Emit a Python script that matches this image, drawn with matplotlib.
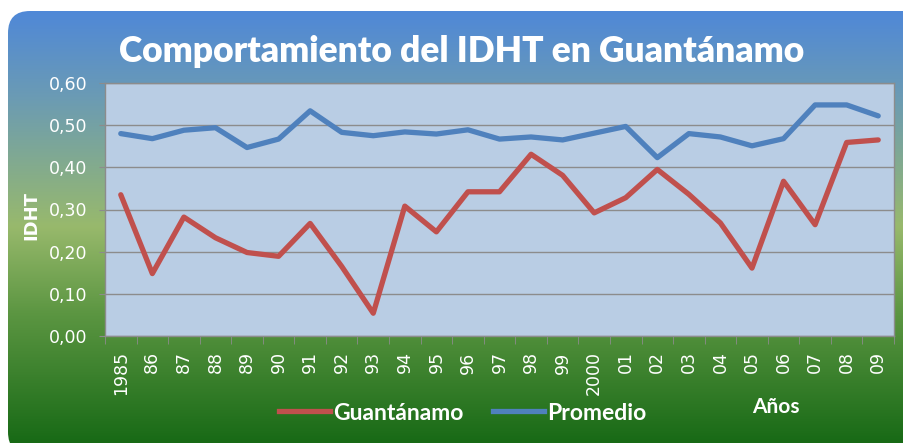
import numpy as np
import matplotlib.pyplot as plt
from matplotlib.patches import FancyBboxPatch
from matplotlib.colors import to_rgb

# --- Data ---
years = ["1985", "86", "87", "88", "89", "90", "91", "92", "93", "94", "95", "96", "97",
         "98", "99", "2000", "01", "02", "03", "04", "05", "06", "07", "08", "09"]
guantanamo = [0.335, 0.148, 0.282, 0.233, 0.198, 0.189, 0.267, 0.165, 0.054, 0.308,
              0.247, 0.342, 0.342, 0.431, 0.381, 0.292, 0.328, 0.395, 0.336, 0.268,
              0.161, 0.367, 0.264, 0.459, 0.465]
promedio = [0.480, 0.468, 0.488, 0.494, 0.447, 0.467, 0.534, 0.483, 0.475, 0.484,
            0.479, 0.489, 0.467, 0.472, 0.465, 0.481, 0.497, 0.423, 0.480, 0.472,
            0.451, 0.468, 0.548, 0.548, 0.522]
yticks = [0.0, 0.1, 0.2, 0.3, 0.4, 0.5, 0.6]

W, H = 904, 443
fig = plt.figure(figsize=(W / 100, H / 100), dpi=100)
fig.patch.set_facecolor("white")

# --- Background: rounded box with vertical gradient ---
bg = fig.add_axes([0, 0, 1, 1], zorder=-1)
bg.set_xlim(0, W)
bg.set_ylim(H, 0)
bg.axis("off")
stops = [0.0, 0.2, 0.5, 0.7, 1.0]
cols = np.array([to_rgb(c) for c in ["#4f88d8", "#6b9bb4", "#98b96c", "#5c9642", "#186a16"]])
t = np.linspace(0, 1, 256)
grad = np.stack([np.interp(t, stops, cols[:, k]) for k in range(3)], axis=1)
grad = np.repeat(grad[:, None, :], 2, axis=1)
im = bg.imshow(grad, extent=[0, W, H, 10], aspect="auto")
box = FancyBboxPatch((8, 11), W + 20, H, boxstyle="round,pad=0,rounding_size=22",
                     transform=bg.transData, facecolor="none", edgecolor="none")
bg.add_patch(box)
im.set_clip_path(box)

# --- Main plot ---
ax = fig.add_axes([105 / W, (H - 336) / H, 789 / W, 253 / H])
ax.set_facecolor("#b9cde4")
x = np.arange(len(years))
ax.plot(x, guantanamo, color="#c0504d", lw=3.8, solid_capstyle="round", solid_joinstyle="round")
ax.plot(x, promedio, color="#4f81bd", lw=3.8, solid_capstyle="round", solid_joinstyle="round")
ax.set_xlim(-0.5, len(years) - 0.5)
ax.set_ylim(0, 0.6)
ax.set_yticks(yticks)
ax.set_yticklabels([f"{v:.2f}".replace(".", ",") for v in yticks])
ax.yaxis.grid(True, color="#8c8c8c", lw=1)
ax.set_axisbelow(True)
ax.set_xticks(x)
ax.set_xticklabels(years, rotation=90)
ax.set_xticks(np.arange(len(years) + 1) - 0.5, minor=True)
ax.tick_params(axis="x", which="major", length=0, pad=11, colors="white", labelsize=12.5)
ax.tick_params(axis="x", which="minor", length=6, color="#8c8c8c")
ax.tick_params(axis="y", length=4.5, color="#8c8c8c", colors="white", labelsize=12.5, pad=8)
for lab in ax.get_xticklabels() + ax.get_yticklabels():
    lab.set_color("white")
for s in ax.spines.values():
    s.set_color("#8c8c8c")
    s.set_linewidth(1)

# --- Texts ---
fig.text(462 / W, 1 - 52 / H, "Comportamiento del IDHT en Guantánamo", color="white",
         fontsize=25.5, fontweight="heavy", family="Lato", ha="center", va="center")
fig.text(31 / W, 1 - 215 / H, "IDHT", color="white", fontsize=13, fontweight="bold",
         rotation=90, ha="center", va="center")
fig.text(776 / W, 1 - 407 / H, "Años", color="white", fontsize=15, fontweight="bold",
         family="Lato", ha="center", va="center")

leg_handles = [plt.Line2D([], [], color="#c0504d", lw=3.8),
               plt.Line2D([], [], color="#4f81bd", lw=3.8)]
leg = fig.legend(leg_handles, ["Guantánamo", "Promedio"], loc="center",
                 bbox_to_anchor=(463 / W, 1 - 413 / H), ncol=2, frameon=False,
                 handlelength=2.2, handletextpad=0.15, columnspacing=1.3,
                 prop={"family": "Lato", "weight": "bold", "size": 16.5})
for txt in leg.get_texts():
    txt.set_color("white")

fig.savefig("out.png", dpi=100, facecolor="white")
